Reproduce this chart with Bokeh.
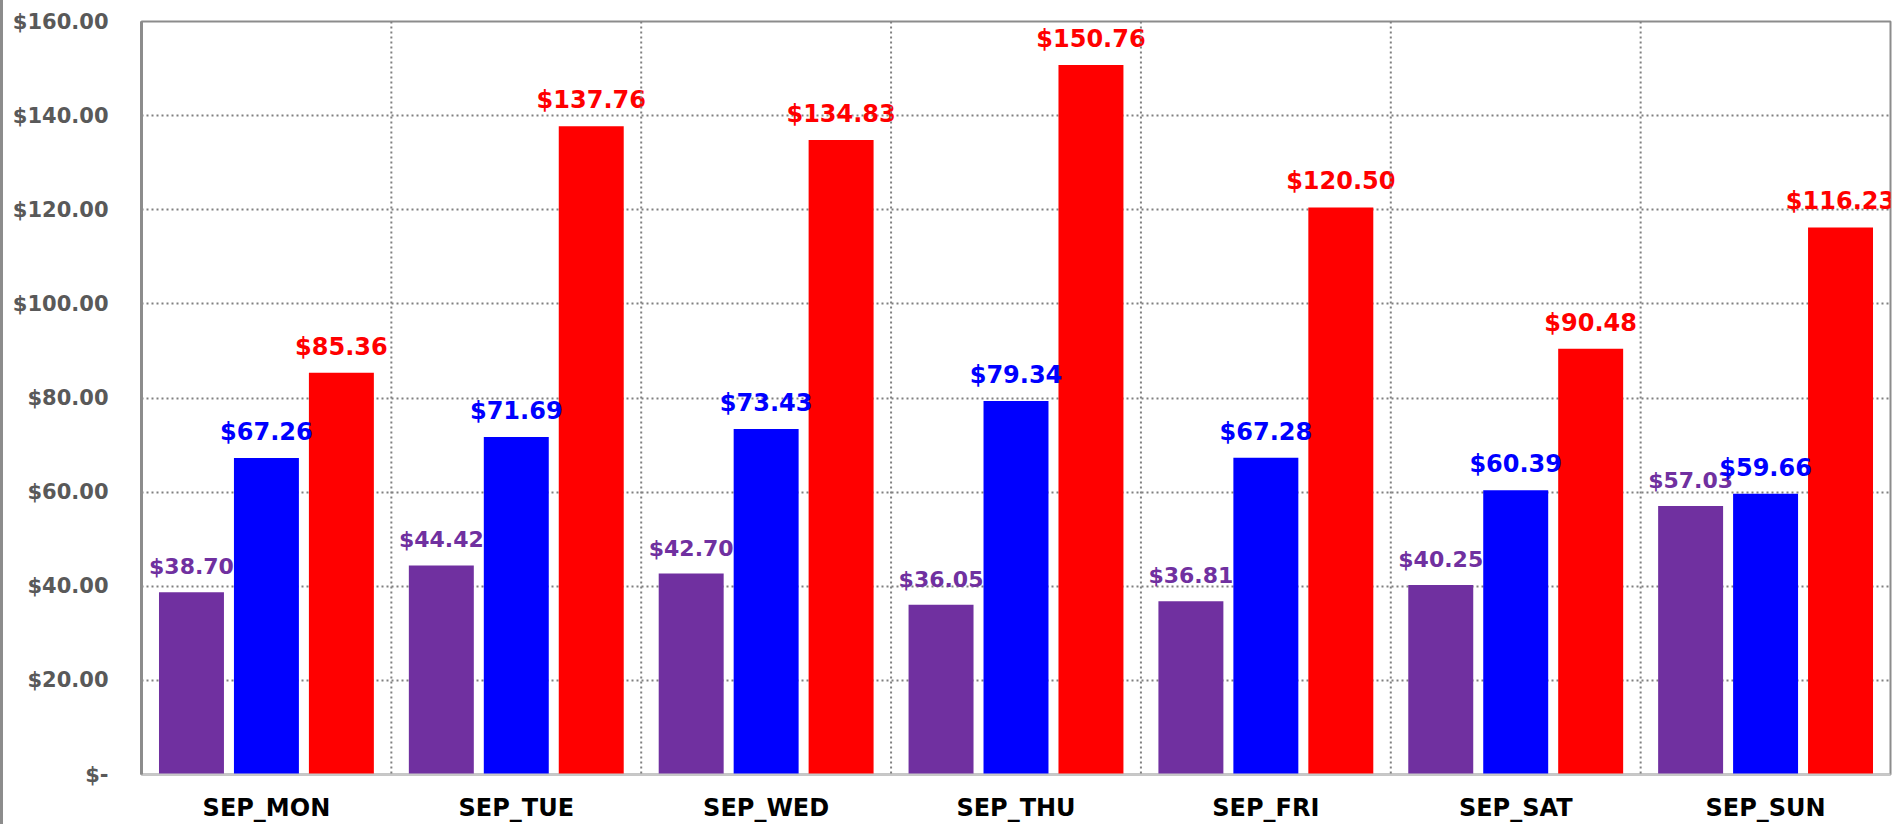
from bokeh.plotting import figure
from bokeh.models import ColumnDataSource, FactorRange, Range1d, FixedTicker, LabelSet, Span
from bokeh.core.properties import value
from bokeh.transform import dodge
from bokeh.embed import file_html
from bokeh.resources import INLINE

days = ["SEP_MON", "SEP_TUE", "SEP_WED", "SEP_THU", "SEP_FRI", "SEP_SAT", "SEP_SUN"]
series_a = [38.70, 44.42, 42.70, 36.05, 36.81, 40.25, 57.03]
series_b = [67.26, 71.69, 73.43, 79.34, 67.28, 60.39, 59.66]
series_c = [85.36, 137.76, 134.83, 150.76, 120.50, 90.48, 116.23]
y_ticks = [0, 20, 40, 60, 80, 100, 120, 140, 160]

colors = ["#7030A0", "#0000FF", "#FF0000"]
offsets = [-0.30, 0.0, 0.30]
label_sizes = ["22px", "24px", "24px"]
bar_w = 0.26
FONT = "DejaVu Sans"

def money(v):
    return "$%.2f" % v

src = ColumnDataSource(dict(
    day=days,
    a=series_a, b=series_b, c=series_c,
    la=[money(v) for v in series_a],
    lb=[money(v) for v in series_b],
    lc=[money(v) for v in series_c],
))

p = figure(
    x_range=FactorRange(*days, range_padding=0),
    y_range=Range1d(0, 160),
    width=1895, height=824,
    output_backend="svg", toolbar_location=None,
    min_border_left=138, min_border_right=8, min_border_top=21, min_border_bottom=47,
)
p.styles = {"border-left": "3px solid #8c8c8c"}

for key, lab, col, off, fs in zip(["a", "b", "c"], ["la", "lb", "lc"], colors, offsets, label_sizes):
    p.vbar(x=dodge("day", off, range=p.x_range), top=key, width=bar_w, bottom=0,
           source=src, fill_color=col, line_color=None)
    ls = LabelSet(x=dodge("day", off, range=p.x_range), y=key, text=lab, source=src,
                  text_align="center", text_baseline="alphabetic", y_offset=18,
                  text_color=col, text_font=value(FONT), text_font_style="bold",
                  text_font_size=fs)
    p.add_layout(ls)

# category boundary lines
for i in range(1, len(days)):
    p.add_layout(Span(location=i, dimension="height", line_color="#808080",
                      line_width=2, line_dash="2 3"))

p.xgrid.visible = False
p.ygrid.grid_line_color = "#808080"
p.ygrid.grid_line_width = 2
p.ygrid.grid_line_dash = "2 3"

p.yaxis.ticker = FixedTicker(ticks=y_ticks)
p.yaxis.major_label_overrides = {t: ("$-" if t == 0 else money(t)) for t in y_ticks}
p.yaxis.major_label_text_font = FONT
p.yaxis.major_label_text_font_style = "bold"
p.yaxis.major_label_text_font_size = "21px"
p.yaxis.major_label_text_color = "#595959"
p.yaxis.major_tick_line_color = None
p.yaxis.major_tick_out = 0
p.yaxis.minor_tick_line_color = None
p.yaxis.major_label_standoff = 33
p.yaxis.axis_line_color = "#8c8c8c"
p.yaxis.axis_line_width = 3

p.xaxis.major_label_text_font = FONT
p.xaxis.major_label_text_font_style = "bold"
p.xaxis.major_label_text_font_size = "24px"
p.xaxis.major_label_text_color = "#000000"
p.xaxis.major_label_standoff = 19
p.xaxis.major_tick_line_color = None
p.xaxis.major_tick_out = 0
p.xaxis.axis_line_color = "#c8c8c8"
p.xaxis.axis_line_width = 2

p.outline_line_color = "#8c8c8c"
p.outline_line_width = 2

open("out.html", "w").write(file_html(p, INLINE))
